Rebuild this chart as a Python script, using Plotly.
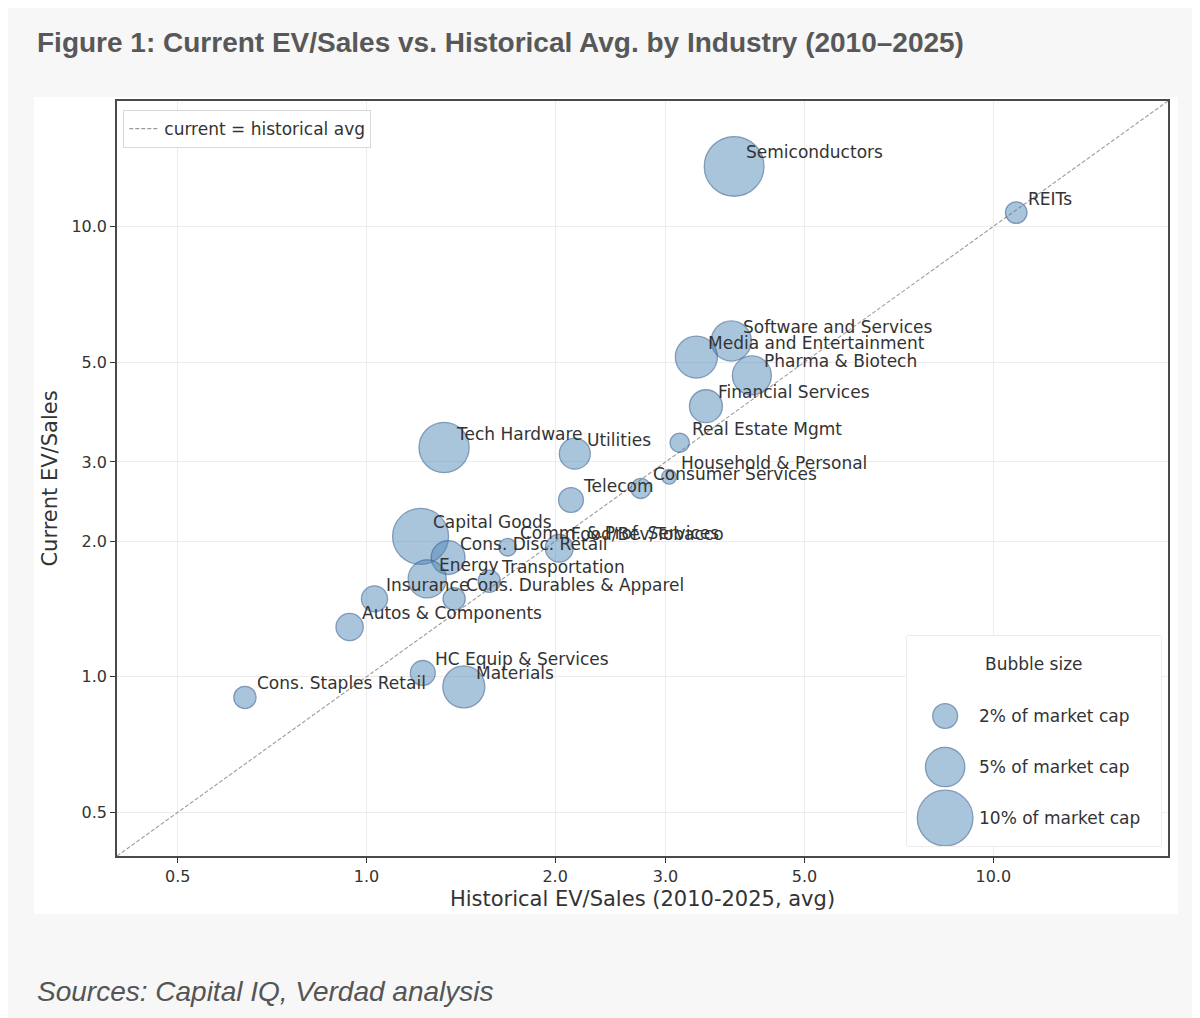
import numpy as np
import plotly.graph_objects as go

# Industry data
industries = [
    "Semiconductors", "REITs", "Software and Services", "Media and Entertainment",
    "Pharma & Biotech", "Financial Services", "Real Estate Mgmt", "Household & Personal",
    "Consumer Services", "Telecom", "Utilities", "Tech Hardware", "Capital Goods",
    "Cons. Disc. Retail", "Comm. & Prof. Services", "Food/Bev/Tobacco", "Energy",
    "Transportation", "Insurance", "Cons. Durables & Apparel", "Autos & Components",
    "HC Equip & Services", "Materials", "Cons. Staples Retail",
]
hist_ev_sales = [
    3.86, 10.88, 3.82, 3.36,
    4.12, 3.48, 3.16, 3.04,
    2.74, 2.12, 2.15, 1.33, 1.22,
    1.35, 1.68, 2.03, 1.25,
    1.57, 1.03, 1.38, 0.94,
    1.23, 1.43, 0.64,
]
current_ev_sales = [
    13.6, 10.74, 5.57, 5.13,
    4.67, 3.99, 3.31, 2.78,
    2.62, 2.47, 3.13, 3.23, 2.05,
    1.84, 1.94, 1.93, 1.65,
    1.63, 1.49, 1.49, 1.29,
    1.02, 0.95, 0.90,
]
mcap_pct = [
    11.5, 1.5, 5.2, 5.7,
    4.9, 3.5, 1.2, 0.7,
    1.3, 2.0, 3.1, 8.1, 10.1,
    3.7, 1.0, 2.5, 4.7,
    1.6, 2.2, 1.6, 2.4,
    2.0, 5.7, 1.6,
]

legend_pcts = [2, 5, 10]
legend_labels = ["2% of market cap", "5% of market cap", "10% of market cap"]

tick_vals = [0.5, 1.0, 2.0, 3.0, 5.0, 10.0]
tick_text = ["0.5", "1.0", "2.0", "3.0", "5.0", "10.0"]
axis_lims = [0.4, 19]

# bubble radius = 8.8 px * sqrt(pct); plotly area mode gives radius = sqrt(v / 2 / sizeref)
sizeref = 1 / (2 * 8.8 ** 2)
fill = "rgba(70,130,180,0.66)"
edge = "rgba(45,85,135,0.8)"
font = "DejaVu Sans"
txt = "#333333"

fig = go.Figure()

fig.add_trace(go.Scatter(
    x=axis_lims, y=axis_lims, mode="lines",
    line=dict(color="#9a9a9a", width=1.1, dash="4px,2px"),
    name="current = historical avg", hoverinfo="skip",
))

fig.add_trace(go.Scatter(
    x=hist_ev_sales, y=current_ev_sales, mode="markers",
    marker=dict(size=mcap_pct, sizemode="area", sizeref=sizeref,
                color=fill, line=dict(color=edge, width=1.3)),
    text=industries, showlegend=False,
))

annotations = []
for name, h, c in zip(industries, hist_ev_sales, current_ev_sales):
    annotations.append(dict(
        x=np.log10(h), y=np.log10(c), xref="x", yref="y", text=name,
        showarrow=False, xanchor="left", yanchor="middle", xshift=10, yshift=14,
        font=dict(family=font, size=17, color=txt),
    ))

# bubble size legend, drawn on its own small hidden axes
row_y = [0.619, 0.376, 0.133]
fig.add_trace(go.Scatter(
    x=[0.15] * len(legend_pcts), y=row_y, xaxis="x2", yaxis="y2", mode="markers",
    marker=dict(size=legend_pcts, sizemode="area", sizeref=sizeref,
                color=fill, line=dict(color=edge, width=1.3)),
    showlegend=False, hoverinfo="skip",
))
for lab, yy in zip(legend_labels, row_y):
    annotations.append(dict(x=0.276, y=yy, xref="x2", yref="y2", text=lab, showarrow=False,
                            xanchor="left", yanchor="middle",
                            font=dict(family=font, size=17, color=txt)))
annotations.append(dict(x=0.5, y=0.867, xref="x2", yref="y2", text="Bubble size", showarrow=False,
                        xanchor="center", yanchor="middle",
                        font=dict(family=font, size=17, color=txt)))

annotations.append(dict(
    x=-0.078, y=1.078, xref="paper", yref="paper", xanchor="left", yanchor="middle",
    text="<b>Figure 1: Current EV/Sales vs. Historical Avg. by Industry (2010–2025)</b>",
    showarrow=False, font=dict(family="Liberation Sans", size=28, color="#585858"),
))
annotations.append(dict(
    x=-0.078, y=-0.180, xref="paper", yref="paper", xanchor="left", yanchor="middle",
    text="<i>Sources: Capital IQ, Verdad analysis</i>",
    showarrow=False, font=dict(family="Liberation Sans", size=28, color="#555555"),
))

shapes = [
    # white chart card on grey page
    dict(type="rect", xref="paper", yref="paper", x0=-0.079, x1=1.0095, y0=-0.0768, y1=1.0053,
         fillcolor="white", line=dict(width=0), layer="below"),
    # bubble legend frame
    dict(type="rect", xref="paper", yref="paper", x0=0.7517, x1=0.9933, y0=0.0133, y1=0.2914,
         fillcolor="rgba(255,255,255,0.85)", line=dict(color="#d8d8d8", width=1), layer="below"),
]

axis_common = dict(
    type="log", range=[np.log10(axis_lims[0]), np.log10(axis_lims[1])],
    tickvals=tick_vals, ticktext=tick_text, ticks="outside", ticklen=5, tickwidth=1,
    tickcolor="#333", tickfont=dict(family=font, size=16, color=txt),
    showline=True, linecolor="#4a4a4a", linewidth=1.5, mirror=True,
    showgrid=True, gridcolor="#ececec", gridwidth=1, zeroline=False,
)

# page has an 8px body margin, so margins are shifted to land the plot where the reference has it
fig.update_layout(
    width=1200, height=1018,
    margin=dict(l=109, r=40, t=93, b=170),
    paper_bgcolor="#f7f7f7", plot_bgcolor="white",
    xaxis=dict(axis_common, title=dict(text="Historical EV/Sales (2010-2025, avg)",
                                       font=dict(family=font, size=21, color=txt), standoff=6)),
    yaxis=dict(axis_common, title=dict(text="Current EV/Sales",
                                       font=dict(family=font, size=21, color=txt), standoff=8)),
    xaxis2=dict(domain=[0.7517, 0.9933], range=[0, 1], anchor="y2", visible=False, fixedrange=True),
    yaxis2=dict(domain=[0.0133, 0.2914], range=[0, 1], anchor="x2", visible=False, fixedrange=True),
    legend=dict(x=0.006, y=0.988, xanchor="left", yanchor="top",
                bgcolor="rgba(255,255,255,0.9)", bordercolor="#d8d8d8", borderwidth=1,
                font=dict(family=font, size=17, color=txt)),
    annotations=annotations,
    shapes=shapes,
    showlegend=True,
)

fig.write_html("out.html")
